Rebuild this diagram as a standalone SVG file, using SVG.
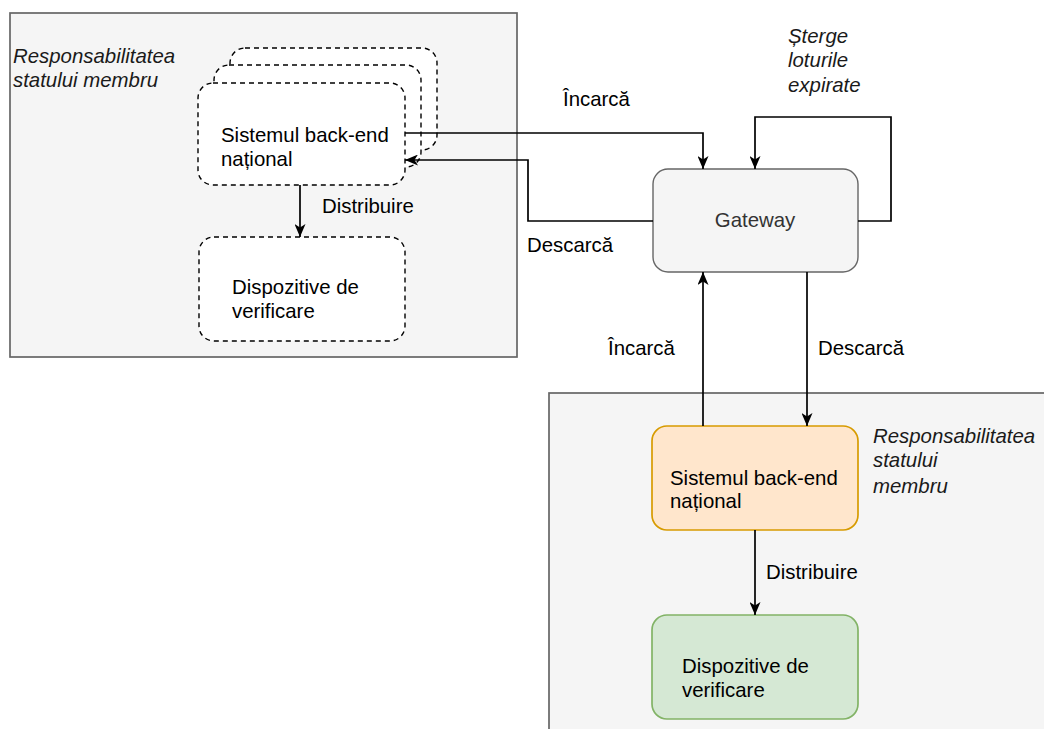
<svg xmlns="http://www.w3.org/2000/svg" width="1044" height="729" viewBox="0 0 1044 729">
<style>
text{font-family:"Liberation Sans",Arial,sans-serif;font-size:20.4px;fill:#000}
.it{font-style:italic;fill:#1a1a1a}
.cont{fill:#f5f5f5;stroke:#666;stroke-width:1.7}
.dash{fill:#fff;stroke:#000;stroke-width:1.4;stroke-dasharray:5 4}
.edge{fill:none;stroke:#000;stroke-width:1.7}
</style>
<defs>
<marker id="arr" viewBox="0 0 13 11" refX="13" refY="5.5" markerWidth="13" markerHeight="11" markerUnits="userSpaceOnUse" orient="auto">
<path d="M0,0 L13,5.5 L0,11 L3.5,5.5 Z" fill="#000"/>
</marker>
</defs>
<g id="container-left">
<rect class="cont" x="10" y="13" width="507" height="344"/>
<text class="it" x="13" y="63">Responsabilitatea</text>
<text class="it" x="13" y="87">statului membru</text>
</g>
<g id="container-right">
<rect class="cont" x="549" y="393" width="510" height="350"/>
<text class="it" x="873" y="443">Responsabilitatea</text>
<text class="it" x="873" y="467">statului</text>
<text class="it" x="873" y="493">membru</text>
</g>
<g id="backend-left">
<rect class="dash" x="230" y="48" width="207" height="102" rx="15"/>
<rect class="dash" x="214" y="65" width="207" height="102" rx="15"/>
<rect class="dash" x="198" y="83" width="207" height="102" rx="15"/>
<text x="221" y="142">Sistemul back-end</text>
<text x="221" y="166">național</text>
</g>
<g id="devices-left">
<rect class="dash" x="199" y="237" width="206" height="104" rx="15"/>
<text x="232" y="294">Dispozitive de</text>
<text x="232" y="318">verificare</text>
</g>
<g id="gateway">
<rect x="653" y="169" width="205" height="103" rx="15" fill="#f5f5f5" stroke="#666" stroke-width="1.4"/>
<text x="755" y="227" text-anchor="middle" style="fill:#333">Gateway</text>
</g>
<g id="backend-right">
<rect x="652" y="426" width="206" height="104" rx="15" fill="#ffe6cc" stroke="#d79b00" stroke-width="1.7"/>
<text x="670" y="485">Sistemul back-end</text>
<text x="670" y="508">național</text>
</g>
<g id="devices-right">
<rect x="652" y="615" width="206" height="104" rx="15" fill="#d5e8d4" stroke="#82b366" stroke-width="1.7"/>
<text x="682" y="673">Dispozitive de</text>
<text x="682" y="697">verificare</text>
</g>
<g id="connectors">
<path class="edge" d="M405,133 H703 V169" marker-end="url(#arr)"/>
<path class="edge" d="M653,221 H528 V160 H405" marker-end="url(#arr)"/>
<path class="edge" d="M858,221 H891 V117 H755 V169" marker-end="url(#arr)"/>
<path class="edge" d="M703,426 V272" marker-end="url(#arr)"/>
<path class="edge" d="M807,272 V426" marker-end="url(#arr)"/>
<path class="edge" d="M300,185 V237" marker-end="url(#arr)"/>
<path class="edge" d="M755,530 V615" marker-end="url(#arr)"/>
<text x="563" y="106">Încarcă</text>
<text x="527" y="252">Descarcă</text>
<text class="it" x="788" y="43">Șterge</text>
<text class="it" x="788" y="67">loturile</text>
<text class="it" x="788" y="92">expirate</text>
<text x="608" y="355">Încarcă</text>
<text x="818" y="355">Descarcă</text>
<text x="322" y="213">Distribuire</text>
<text x="766" y="579">Distribuire</text>
</g>
</svg>
